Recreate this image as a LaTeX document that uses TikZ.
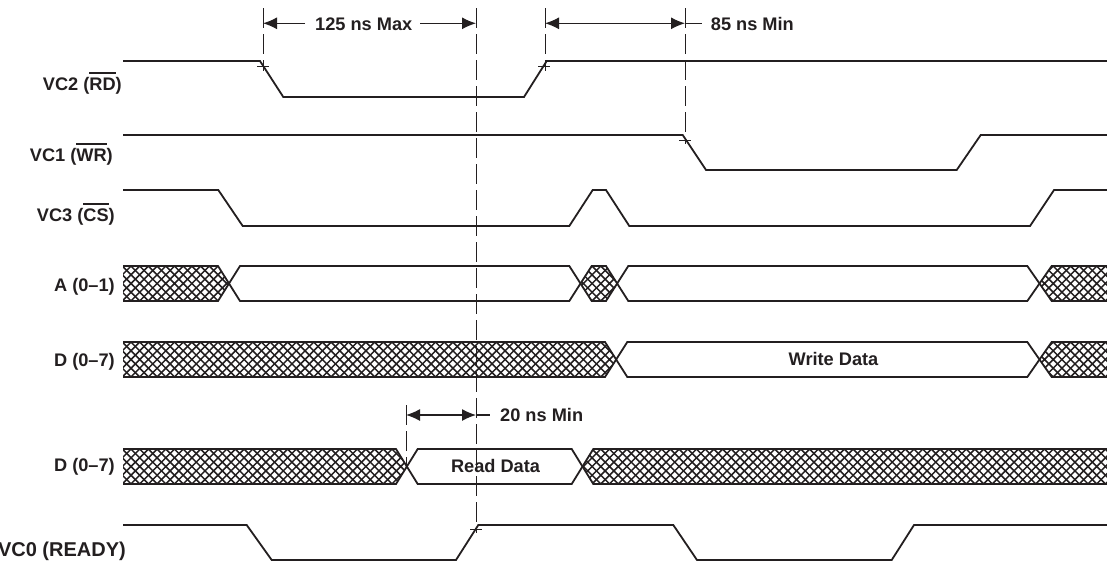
\documentclass[tikz,border=0pt]{standalone}
\usepackage{fontspec}
\setmainfont{Liberation Sans}
\usetikzlibrary{arrows.meta}
\definecolor{ink}{HTML}{231F20}
\newcommand\obar[1]{\leavevmode\vbox{\hrule height 2pt\kern 3pt\hbox{#1}}}
\tikzset{
  sig/.style={line width=1.8pt, draw=ink, line join=miter},
  hatchline/.style={line width=1.5pt, draw=ink},
  guide/.style={line width=1pt, draw=ink, dash pattern=on 20pt off 6pt},
  dimline/.style={line width=1.2pt, draw=ink},
  dimarrow/.style={dimline, -{Latex[length=14pt,width=12pt]}},
  dimboth/.style={dimline, {Latex[length=14pt,width=12pt]}-{Latex[length=14pt,width=12pt]}},
  tickmark/.style={line width=1pt, draw=ink},
  lbl/.style={anchor=base east, inner sep=0pt, text=ink, font=\fontsize{18.2}{21}\selectfont\bfseries},
  txt/.style={anchor=base west, inner sep=0pt, text=ink, font=\fontsize{18.2}{21}\selectfont\bfseries},
  bustxt/.style={anchor=base, inner sep=0pt, text=ink, font=\fontsize{18.2}{21}\selectfont\bfseries},
}
% hatch lines for a bus band: #1 = top y, #2 = bottom y (height 35)
\newcommand\hatchlines[2]{%
  \foreach \c in {70,78.7,...,1120}
    {\draw[hatchline] (\c,#1) -- ++(35,35) (\c,#2) -- ++(35,-35);}%
}
\begin{document}
\begin{tikzpicture}[x=1pt,y=-1pt]
\useasboundingbox (0,0) rectangle (1107,560);

% ---- labels
\node[lbl] (lvc2) at (122,90) {VC2 (\obar{RD})};
\node[lbl] (lvc1) at (113,161) {VC1 (\obar{WR})};
\node[lbl] (lvc3) at (115,221) {VC3 (\obar{CS})};
\node[lbl] (la) at (115,291) {A (0–1)};
\node[lbl] (ld) at (115,366) {D (0–7)};
\node[lbl] (ld2) at (115,471.5) {D (0–7)};
\node[lbl, font=\fontsize{20}{23}\selectfont\bfseries] (lvc0) at (126,556) {VC0 (READY)};

% ---- VC2, VC1, VC3, VC0
\draw[sig] (123,61) -- (260,61) -- (283.3,97) -- (524,97) -- (546.7,61) -- (1108,61);
\draw[sig] (123,135) -- (682.7,135) -- (706,170) -- (956.7,170) -- (980.7,135) -- (1108,135);
\draw[sig] (123,190) -- (218.3,190) -- (242.7,226) -- (569.3,226) -- (592.7,190) -- (606,190) -- (629.3,226) -- (1030,226) -- (1054,190) -- (1108,190);
\draw[sig] (123,525) -- (246.7,525) -- (271.7,560) -- (456,560) -- (478.3,525) -- (673.3,525) -- (697,560) -- (891.7,560) -- (914,525) -- (1108,525);

% ---- A (0-1)
\begin{scope}
  \clip (123,266) -- (218,266) -- (229,283.5) -- (218,301) -- (123,301) -- cycle
        (580.5,283.5) -- (591.7,266) -- (606,266) -- (617,283.5) -- (606,301) -- (591.7,301) -- cycle
        (1039.5,283.5) -- (1051.7,266) -- (1108,266) -- (1108,301) -- (1051.7,301) -- cycle;
  \hatchlines{266}{301}
\end{scope}
\draw[sig] (123,266) -- (218,266) -- (240,301) -- (569.3,301) -- (591.7,266) -- (606,266) -- (628.3,301) -- (1027.3,301) -- (1051.7,266) -- (1108,266);
\draw[sig] (123,301) -- (218,301) -- (240,266) -- (569.3,266) -- (591.7,301) -- (606,301) -- (628.3,266) -- (1027.3,266) -- (1051.7,301) -- (1108,301);

% ---- D (0-7) write
\begin{scope}
  \clip (123,342) -- (605,342) -- (616,359.5) -- (605,377) -- (123,377) -- cycle
        (1039.5,359.5) -- (1051.7,342) -- (1108,342) -- (1108,377) -- (1051.7,377) -- cycle;
  \hatchlines{342}{377}
\end{scope}
\draw[sig] (123,342) -- (605,342) -- (627.3,377) -- (1027.3,377) -- (1051.7,342) -- (1108,342);
\draw[sig] (123,377) -- (605,377) -- (627.3,342) -- (1027.3,342) -- (1051.7,377) -- (1108,377);
\node[bustxt] (wd) at (833.5,365.5) {Write Data};

% ---- D (0-7) read
\begin{scope}
  \clip (123,449) -- (396,449) -- (406.8,466.5) -- (396,484) -- (123,484) -- cycle
        (582.5,466.5) -- (593.3,449) -- (1108,449) -- (1108,484) -- (593.3,484) -- cycle;
  \hatchlines{449}{484}
\end{scope}
\draw[sig] (123,449) -- (396,449) -- (417.7,484) -- (571.7,484) -- (593.3,449) -- (1108,449);
\draw[sig] (123,484) -- (396,484) -- (417.7,449) -- (571.7,449) -- (593.3,484) -- (1108,484);
\node[bustxt] (rd) at (495.5,472.5) {Read Data};

% ---- guide lines
\coordinate (g1t) at (263,8);   \coordinate (g1b) at (263,71);
\coordinate (g2t) at (476,8);   \coordinate (g2b) at (476,533);
\coordinate (g3t) at (545,8);   \coordinate (g3b) at (545,71);
\coordinate (g4t) at (685,8);   \coordinate (g4b) at (685,144);
\coordinate (g5t) at (406,405); \coordinate (g5b) at (406,466.5);
\draw[guide] (g1t) -- (g1b);
\draw[guide] (g2t) -- (g2b);
\draw[guide] (g3t) -- (g3b);
\draw[guide] (g4t) -- (g4b);
\draw[guide] (g5t) -- (g5b);

% ---- tick marks
\coordinate (k1) at (263,66.5);
\coordinate (k2) at (544,66.5);
\coordinate (k3) at (685,140);
\coordinate (k4) at (476,529);
\foreach \k in {k1,k2,k3,k4}
  \draw[tickmark] ([xshift=-6pt]\k) -- ([xshift=6pt]\k);

% ---- 125 ns Max
\coordinate (a1) at (263,23.3);
\coordinate (a1e) at (305,23.3);
\coordinate (a2s) at (420,23.3);
\coordinate (a2) at (476,23.3);
\draw[dimarrow] (a1e) -- (a1);
\node[txt] (t125) at (315,30.3) {125 ns Max};
\draw[dimarrow] (a2s) -- (a2);

% ---- 85 ns Min
\coordinate (b1) at (545,23.3);
\coordinate (b2) at (685,23.3);
\coordinate (b3) at (702,23.3);
\draw[dimboth] (b1) -- (b2);
\draw[dimline] (b2) -- (b3);
\node[txt] (t85) at (710.7,30.3) {85 ns Min};

% ---- 20 ns Min
\coordinate (c1) at (406,415);
\coordinate (c2) at (476,415);
\coordinate (c3) at (490,415);
\draw[dimboth] (c1) -- (c2);
\draw[dimline] (c2) -- (c3);
\node[txt] (t20) at (500,421.7) {20 ns Min};
\end{tikzpicture}
\end{document}
